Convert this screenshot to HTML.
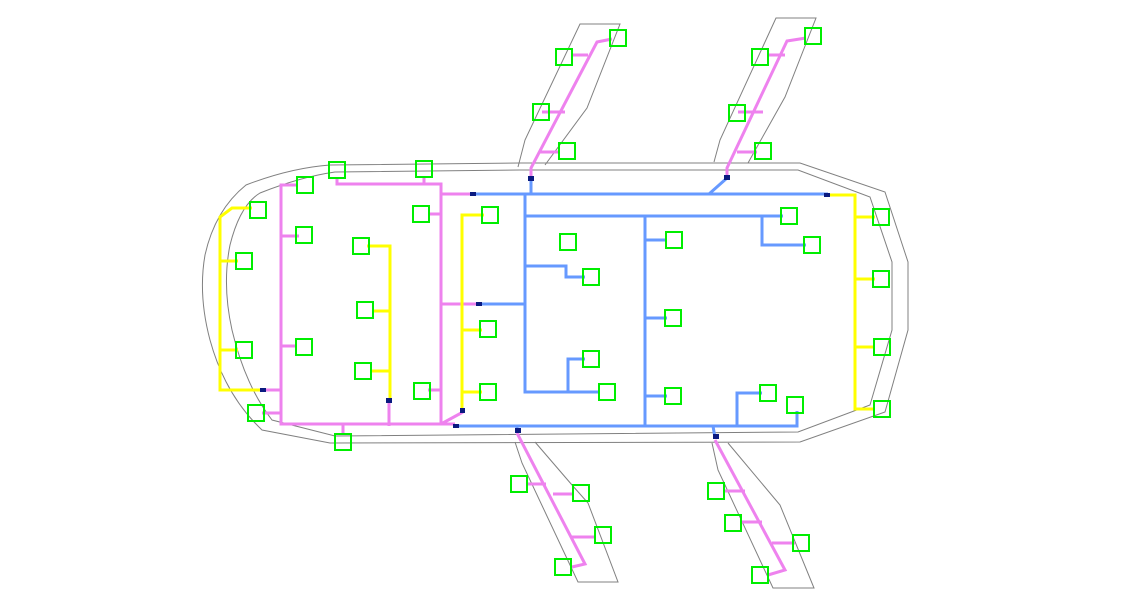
<!DOCTYPE html>
<html><head><meta charset="utf-8"><style>html,body{margin:0;padding:0;background:#fff}svg{display:block}</style></head>
<body>
<svg width="1139" height="596" viewBox="0 0 1139 596" xmlns="http://www.w3.org/2000/svg">
<g fill="none" stroke="#808080" stroke-width="1">
<path d="M330,165 L520,163 L800,163 L885,192 L908,262 L908,330 L885,412 L800,442 L330,443 L262,430 Q225,395 210,340 Q198,295 205,255 Q215,210 246,185 Q290,168 330,165 Z"/>
<path d="M335,172 L520,170 L798,170 L870,197 L892,262 L892,330 L870,405 L798,432 L335,436 L272,420 Q245,385 232,330 Q222,285 230,245 Q240,205 260,193 Q300,177 335,172 Z"/>
<path d="M518,167 L525,140 L580,24 L620,24 L587,108 L545,165"/>
<path d="M714,162 L720,140 L776,18 L816,18 L785,97 L748,163"/>
<path d="M515,442 L522,463 L578,582 L618,582 L588,503 L572,485 L535,442"/>
<path d="M712,443 L718,470 L773,588 L814,588 L780,505 L728,443"/>
</g>
<g fill="none" stroke="#ee82ee" stroke-width="3">
<path d="M298,185 H281 V424 H455"/>
<path d="M337,178 V184 H441 V424"/><path d="M424,177 V184"/>
<path d="M281,236 H299 M281,346 H297 M281,413 H262 M281,390 H262"/>
<path d="M441,214 H428 M441,390 H428 M441,194 H470 M441,304 H478 M343,424 V434 M389,400 V426 M441,424 L463,412"/>
<path d="M531,180 V168 L597,42 L612,39 M588,55 H572 M565,112 H542 M540,152 H560"/>
<path d="M727,178 V168 L787,41 L806,38 M785,55 H768 M763,112 H738 M737,152 H757"/>
<path d="M517,433 L585,564 L572,567 M527,484 H546 M553,494 H573 M572,537 H596"/>
<path d="M715,440 L785,570 L768,575 M725,491 H745 M741,522 H762 M772,543 H795"/>
</g>
<g fill="none" stroke="#ffff00" stroke-width="3">
<path d="M252,208 H232 L220,217 V390 H262 M220,261 H238 M220,350 H238"/>
<path d="M367,246 H390 V400 M390,311 H372 M390,371 H370"/>
<path d="M484,215 H462 V410 M462,330 H482 M462,392 H482"/>
<path d="M828,195 H855 V409 H875 M855,217 H875 M855,279 H875 M855,347 H875"/>
</g>
<g fill="none" stroke="#6699ff" stroke-width="3">
<path d="M470,194 H828 M455,426 H797 V411 M525,194 V392 H600 M478,304 H525 M525,216 H783 M645,216 V426"/>
<path d="M525,266 H566 V277 H585 M568,392 V359 H585 M645,240 H667 M645,318 H667 M645,396 H667"/>
<path d="M762,216 V245 H806 M737,426 V393 H762 M531,180 V194 M727,178 L709,194 M517,426 V433 M713,426 L715,438"/>
</g>
<g fill="#0a1a80">
<rect x="470" y="192" width="6" height="4"/><rect x="824" y="193" width="6" height="4"/><rect x="476" y="302" width="6" height="4"/>
<rect x="260" y="388" width="6" height="4"/><rect x="386" y="398" width="6" height="5"/><rect x="460" y="408" width="5" height="5"/>
<rect x="453" y="424" width="6" height="4"/><rect x="528" y="176" width="6" height="5"/><rect x="724" y="175" width="6" height="5"/>
<rect x="515" y="428" width="6" height="5"/><rect x="713" y="434" width="6" height="5"/>
</g>
<g fill="none" stroke="#00ee00" stroke-width="2">
<rect x="297" y="177" width="16" height="16"/><rect x="329" y="162" width="16" height="16"/><rect x="416" y="161" width="16" height="16"/>
<rect x="250" y="202" width="16" height="16"/><rect x="296" y="227" width="16" height="16"/><rect x="236" y="253" width="16" height="16"/>
<rect x="353" y="238" width="16" height="16"/><rect x="413" y="206" width="16" height="16"/><rect x="482" y="207" width="16" height="16"/>
<rect x="357" y="302" width="16" height="16"/><rect x="236" y="342" width="16" height="16"/><rect x="296" y="339" width="16" height="16"/>
<rect x="355" y="363" width="16" height="16"/><rect x="414" y="383" width="16" height="16"/><rect x="480" y="321" width="16" height="16"/>
<rect x="480" y="384" width="16" height="16"/><rect x="248" y="405" width="16" height="16"/><rect x="335" y="434" width="16" height="16"/>
<rect x="560" y="234" width="16" height="16"/><rect x="583" y="269" width="16" height="16"/><rect x="583" y="351" width="16" height="16"/>
<rect x="599" y="384" width="16" height="16"/><rect x="666" y="232" width="16" height="16"/><rect x="665" y="310" width="16" height="16"/>
<rect x="665" y="388" width="16" height="16"/><rect x="781" y="208" width="16" height="16"/><rect x="804" y="237" width="16" height="16"/>
<rect x="760" y="385" width="16" height="16"/><rect x="787" y="397" width="16" height="16"/><rect x="873" y="209" width="16" height="16"/>
<rect x="873" y="271" width="16" height="16"/><rect x="874" y="339" width="16" height="16"/><rect x="874" y="401" width="16" height="16"/>
<rect x="556" y="49" width="16" height="16"/><rect x="610" y="30" width="16" height="16"/><rect x="533" y="104" width="16" height="16"/>
<rect x="559" y="143" width="16" height="16"/><rect x="752" y="49" width="16" height="16"/><rect x="805" y="28" width="16" height="16"/>
<rect x="729" y="105" width="16" height="16"/><rect x="755" y="143" width="16" height="16"/>
<rect x="511" y="476" width="16" height="16"/><rect x="573" y="485" width="16" height="16"/><rect x="595" y="527" width="16" height="16"/>
<rect x="555" y="559" width="16" height="16"/><rect x="708" y="483" width="16" height="16"/><rect x="725" y="515" width="16" height="16"/>
<rect x="793" y="535" width="16" height="16"/><rect x="752" y="567" width="16" height="16"/>
</g>
</svg>
</body></html>
